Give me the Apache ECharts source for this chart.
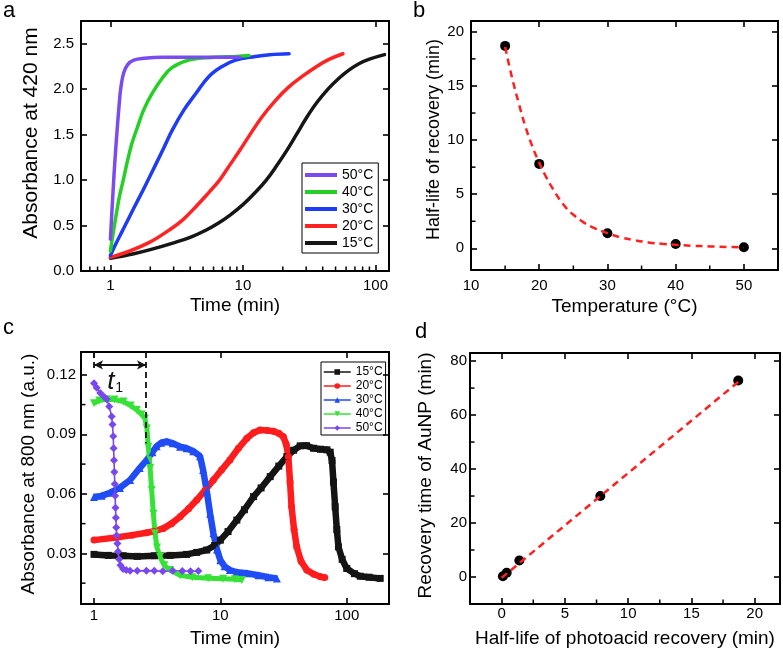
<!DOCTYPE html>
<html><head><meta charset="utf-8">
<script src="https://cdn.jsdelivr.net/npm/echarts@6/dist/echarts.min.js"></script>
<style>html,body{margin:0;padding:0;background:#fff}#c{width:783px;height:652px}</style>
</head><body><div id="c"></div>
<script>
// ---------- Panel a: absorbance at 420 nm vs time ----------
const a15_t = [1.0, 1.5, 2.0, 3.0, 4.0, 5.2, 6.5, 8.0, 10, 12.5, 15, 18, 21.5, 25.3, 30, 36, 43.8, 53, 63, 75, 90, 117];
const a15_v = [0.14, 0.19, 0.235, 0.31, 0.37, 0.445, 0.525, 0.615, 0.73, 0.87, 1.0, 1.16, 1.33, 1.5, 1.68, 1.85, 2.0, 2.12, 2.21, 2.28, 2.33, 2.38];
const a20_t = [1.0, 1.4, 2.0, 2.77, 3.5, 4.5, 5.5, 6.66, 8.0, 9.5, 11.3, 14, 17.7, 22, 28, 36, 45, 56.8];
const a20_v = [0.15, 0.22, 0.32, 0.45, 0.56, 0.72, 0.86, 1.0, 1.17, 1.33, 1.5, 1.7, 1.88, 2.02, 2.14, 2.25, 2.33, 2.39];
const a30_t = [1.0, 1.1, 1.24, 1.5, 1.75, 2.0, 2.5, 2.93, 3.58, 4.4, 5.54, 6.97, 8.8, 12.4, 16, 22.3];
const a30_v = [0.17, 0.3, 0.45, 0.69, 0.88, 1.05, 1.34, 1.55, 1.77, 1.95, 2.14, 2.25, 2.32, 2.36, 2.38, 2.39];
const a40_t = [1.0, 1.05, 1.1, 1.17, 1.25, 1.34, 1.45, 1.59, 1.78, 2.06, 2.46, 2.93, 3.9, 6.2, 9.0, 11.1];
const a40_v = [0.22, 0.42, 0.6, 0.82, 1.0, 1.2, 1.4, 1.57, 1.77, 1.95, 2.12, 2.24, 2.32, 2.35, 2.36, 2.37];
const a50_t = [1.0, 1.04, 1.08, 1.12, 1.16, 1.2, 1.26, 1.35, 1.5, 1.8, 2.5, 4.0, 6.0, 9.5];
const a50_v = [0.35, 0.8, 1.2, 1.52, 1.8, 2.02, 2.18, 2.27, 2.32, 2.34, 2.35, 2.35, 2.35, 2.35];
const a_labels = ['50°C', '40°C', '30°C', '20°C', '15°C'];
const a_xMajor = [1, 10, 100];
const a_xMinor = [0.7, 0.8, 0.9, 2, 3, 4, 5, 6, 7, 8, 9, 20, 30, 40, 50, 60, 70, 80, 90];
const a_yMajor = [0, 0.5, 1.0, 1.5, 2.0, 2.5];

// ---------- Panel b: half-life vs temperature ----------
const b_temp = [15, 20, 30, 40, 50];
const b_half = [18.7, 7.8, 1.4, 0.4, 0.1];
const b_fit_t = [15, 16, 17, 18, 19, 20, 21, 22, 23, 24, 25, 26.5, 28, 30, 32, 34, 36, 38, 40, 42.5, 45, 47.5, 50];
const b_fit_v = [18.6, 15.8, 13.4, 11.2, 9.4, 7.9, 6.6, 5.5, 4.5, 3.7, 3.1, 2.4, 1.9, 1.4, 1.0, 0.75, 0.55, 0.42, 0.33, 0.24, 0.18, 0.13, 0.1];
const b_xMajor = [10, 20, 30, 40, 50];
const b_xMinor = [15, 25, 35, 45];
const b_yMajor = [0, 5, 10, 15, 20];
const b_yMinor = [2.5, 7.5, 12.5, 17.5];

// ---------- Panel c: absorbance at 800 nm vs time ----------
const c15_t = [1.0, 1.3, 1.7, 2.2, 3, 4, 5.4, 6.5, 7.8, 9, 10, 11.5, 13.5, 15.5, 18.3, 21, 24.8, 29, 33.6, 38, 42.8, 48, 54.6, 62, 69.7, 74, 76.5, 78.5, 81, 83.5, 86, 92, 100, 115, 128, 150, 184];
const c15_v = [0.0295, 0.029, 0.0288, 0.0285, 0.0288, 0.029, 0.0295, 0.0305, 0.0317, 0.034, 0.0367, 0.041, 0.0468, 0.052, 0.0586, 0.063, 0.0687, 0.074, 0.0788, 0.082, 0.0842, 0.0843, 0.083, 0.0825, 0.0822, 0.081, 0.0768, 0.066, 0.0535, 0.042, 0.0333, 0.027, 0.0224, 0.0198, 0.0185, 0.018, 0.0174];
const c20_t = [1.0, 1.5, 2.0, 2.61, 3.0, 3.54, 4.1, 4.8, 5.6, 6.5, 7.6, 8.8, 10.2, 11.9, 13.9, 16.2, 18.3, 20.6, 23.5, 26.3, 29, 31.5, 33.2, 34.5, 35.6, 36.6, 38.3, 40.2, 43.5, 48.3, 55, 62, 67];
const c20_v = [0.0367, 0.038, 0.0392, 0.0404, 0.0412, 0.0426, 0.045, 0.0485, 0.0525, 0.0569, 0.062, 0.067, 0.072, 0.0771, 0.083, 0.088, 0.0908, 0.0922, 0.092, 0.0916, 0.0905, 0.0888, 0.085, 0.0788, 0.066, 0.0535, 0.042, 0.0333, 0.026, 0.0216, 0.0195, 0.0182, 0.0178];
const c30_t = [1.0, 1.15, 1.34, 1.6, 1.93, 2.3, 2.61, 2.9, 3.13, 3.4, 3.76, 4.2, 4.8, 5.4, 6.1, 6.9, 7.3, 7.8, 8.3, 8.8, 9.4, 10, 10.8, 11.9, 13.5, 16.2, 20, 24, 28];
const c30_v = [0.0584, 0.059, 0.0606, 0.063, 0.067, 0.073, 0.077, 0.081, 0.084, 0.0858, 0.0864, 0.0855, 0.0838, 0.083, 0.0815, 0.079, 0.072, 0.0613, 0.05, 0.0401, 0.032, 0.0266, 0.0235, 0.0216, 0.0205, 0.02, 0.019, 0.018, 0.0174];
const c40_t = [1.0, 1.1, 1.26, 1.45, 1.71, 1.95, 2.18, 2.38, 2.53, 2.62, 2.69, 2.78, 2.86, 2.95, 3.04, 3.15, 3.33, 3.6, 4.0, 4.8, 6, 8, 10.5, 13, 14.8];
const c40_v = [0.1057, 0.107, 0.1077, 0.1075, 0.1065, 0.1045, 0.1023, 0.1, 0.098, 0.093, 0.0838, 0.073, 0.0619, 0.05, 0.0401, 0.033, 0.0283, 0.024, 0.0216, 0.019, 0.018, 0.0175, 0.0172, 0.017, 0.0166];
const c50_t = [1.0, 1.05, 1.12, 1.2, 1.26, 1.32, 1.38, 1.40, 1.42, 1.43, 1.44, 1.45, 1.46, 1.47, 1.48, 1.49, 1.5, 1.51, 1.53, 1.55, 1.58, 1.62, 1.7, 1.8, 1.93, 2.2, 2.6, 3.0, 3.5, 4.2, 5, 5.8, 6.7];
const c50_v = [0.1158, 0.1135, 0.1108, 0.109, 0.1077, 0.104, 0.099, 0.095, 0.089, 0.083, 0.077, 0.071, 0.065, 0.059, 0.053, 0.048, 0.043, 0.039, 0.035, 0.031, 0.027, 0.024, 0.0222, 0.0216, 0.0213, 0.0212, 0.0213, 0.0212, 0.021, 0.0212, 0.0211, 0.021, 0.0211];
const c_labels = ['15°C', '20°C', '30°C', '40°C', '50°C'];
const c_xMajor = [1, 10, 100];
const c_yMajor = [0.03, 0.06, 0.09, 0.12];
const c_yMinor = [0.015, 0.045, 0.075, 0.105];
// t1 annotation (time at 1 min and end of plateau, in data units)
const t1_start = 1.0, t1_end = 2.58;
const t1_arrowY = 0.125, t1_topY = 0.1315, t1_leftBottomY = 0.1225, t1_rightBottomY = 0.0855;

// ---------- Panel d: AuNP recovery vs photoacid half-life ----------
const d_half = [0.1, 0.4, 1.4, 7.8, 18.7];
const d_rec = [0.3, 1.6, 6.1, 30.0, 72.8];
const d_fit_x = [0, 18.7];
const d_fit_y = [-0.3, 72.3];
const d_xMajor = [0, 5, 10, 15, 20];
const d_xMinor = [2.5, 7.5, 12.5, 17.5];
const d_yMajor = [0, 20, 40, 60, 80];
const d_yMinor = [10, 30, 50, 70];

// ---------------------------------------------------------------
const FONT = '"Liberation Sans", Arial, Helvetica, sans-serif';
const zip = (xs, ys) => xs.map((x, i) => [x, ys[i]]);
const chart = echarts.init(document.getElementById('c'), null, {renderer: 'canvas'});

const grids = [
  {left: 81, top: 21, width: 308, height: 250},
  {left: 471, top: 21, width: 307, height: 249},
  {left: 81, top: 352, width: 308, height: 252},
  {left: 470, top: 353, width: 310, height: 251}
];

const xAxes = [], yAxes = [];
function axisSet(dim, g, type, min, max, majors, fmt, name, nameGap, labelMargin, nameSize, namePad) {
  const list = dim === 'x' ? xAxes : yAxes;
  const posMain = dim === 'x' ? 'bottom' : 'left';
  const posMirror = dim === 'x' ? 'top' : 'right';
  const base = {gridIndex: g, type: type, min: min, max: max, splitLine: {show: false}, axisPointer: {show: false}};
  if (type === 'log') base.logBase = 10;
  const line = {show: true, onZero: false, lineStyle: {color: '#000', width: 2}};
  const tick = {show: true, inside: true, length: 6, lineStyle: {color: '#000', width: 1.6}, customValues: majors};
  list.push(Object.assign({}, base, {
    position: posMain, name: name, nameLocation: 'middle', nameGap: nameGap,
    nameTextStyle: {fontFamily: FONT, fontSize: nameSize, color: '#000', padding: namePad || 0},
    axisLine: line, axisTick: tick,
    axisLabel: {show: true, margin: labelMargin, fontFamily: FONT, fontSize: 15, color: '#000', customValues: majors, formatter: fmt}
  }));
  const mainIdx = list.length - 1;
  list.push(Object.assign({}, base, {position: posMirror, axisLine: line, axisTick: tick, axisLabel: {show: false}}));
  return mainIdx;
}
const fmtInt = v => String(Math.round(v));
const fmt1 = v => v.toFixed(1);
const fmt2 = v => v.toFixed(2);

const ax = {
  ax: axisSet('x', 0, 'log', 0.6, 126.5, a_xMajor, fmtInt, 'Time (min)', 25, 7, 19),
  ay: axisSet('y', 0, 'value', 0, 2.75, a_yMajor, fmt1, 'Absorbance at 420 nm', 39, 7, 21, [0, 0, 0, 26]),
  bx: axisSet('x', 1, 'value', 10, 55, b_xMajor, fmtInt, 'Temperature (°C)', 27, 8, 19),
  by: axisSet('y', 1, 'value', -2, 21, b_yMajor, fmtInt, 'Half-life of recovery (min)', 27, 7, 18, [0, 0, 0, 12]),
  cx: axisSet('x', 2, 'log', 0.789, 216, c_xMajor, fmtInt, 'Time (min)', 25, 4, 19),
  cy: axisSet('y', 2, 'value', 0.0045, 0.1315, c_yMajor, fmt2, 'Absorbance at 800 nm (a.u.)', 43, 5, 19, [0, 0, 0, 8]),
  dx: axisSet('x', 3, 'value', -2.5, 22, d_xMajor, fmtInt, 'Half-life of photoacid recovery (min)', 25, 2, 19),
  dy: axisSet('y', 3, 'value', -10, 83, d_yMajor, fmtInt, 'Recovery time of AuNP (min)', 35, 3, 19, [0, 0, 0, 6])
};

const series = [];

// minor ticks drawn through the axis scales (inward, shorter than majors)
function minorTicks(xi, yi, dim, vals, other) {
  series.push({type: 'custom', xAxisIndex: xi, yAxisIndex: yi, silent: true, clip: false, z: 10,
    data: dim === 'x' ? vals.map(v => [v, other]) : vals.map(v => [other, v]),
    renderItem: (params, api) => {
      const p = api.coord([api.value(0), api.value(1)]);
      const shape = dim === 'x' ? {x1: p[0], y1: p[1], x2: p[0], y2: p[1] - 4.5} : {x1: p[0], y1: p[1], x2: p[0] + 4.5, y2: p[1]};
      return {type: 'line', shape: shape, style: {stroke: '#000', lineWidth: 1.5}};
    }});
}
minorTicks(ax.ax, ax.ay, 'x', a_xMinor, 0);
minorTicks(ax.bx, ax.by, 'x', b_xMinor, -2);
minorTicks(ax.bx, ax.by, 'y', b_yMinor, 10);
minorTicks(ax.cx, ax.cy, 'y', c_yMinor, 0.789);
minorTicks(ax.dx, ax.dy, 'x', d_xMinor, -10);
minorTicks(ax.dx, ax.dy, 'y', d_yMinor, -2.5);

const aColors = {a15: '#161616', a20: '#ff2323', a30: '#1d3cf4', a40: '#25cf25', a50: '#7a4cf0'};
const cColors = {c15: '#141414', c20: '#ff1c1c', c30: '#1f4cf4', c40: '#36e236', c50: '#7848ee'};

[['a15', a15_t, a15_v], ['a20', a20_t, a20_v], ['a30', a30_t, a30_v], ['a40', a40_t, a40_v], ['a50', a50_t, a50_v]].forEach(([n, t, v]) => {
  series.push({name: n, type: 'line', xAxisIndex: ax.ax, yAxisIndex: ax.ay, data: zip(t, v), smooth: 0.4,
    showSymbol: false, symbol: 'none', color: aColors[n], lineStyle: {width: 3.5, color: aColors[n], cap: 'round'}, silent: true});
});

// panel b
series.push({type: 'scatter', xAxisIndex: ax.bx, yAxisIndex: ax.by, data: zip(b_temp, b_half), symbol: 'circle', symbolSize: 10,
  itemStyle: {color: '#000', opacity: 1}, z: 2, silent: true});
series.push({type: 'line', xAxisIndex: ax.bx, yAxisIndex: ax.by, data: zip(b_fit_t, b_fit_v), smooth: 0.4, showSymbol: false, symbol: 'none',
  lineStyle: {color: '#ff1f1f', width: 2.5, type: [7, 5]}, z: 3, silent: true});

// panel c
const cSym = {c15: ['rect', 0, 7], c20: ['circle', 0, 7], c30: ['triangle', 0, 8], c40: ['triangle', 180, 8], c50: ['diamond', 0, 8]};
const cWidth = {c15: 6.5, c20: 6.5, c30: 6.5, c40: 5, c50: 1.6};
[['c15', c15_t, c15_v], ['c20', c20_t, c20_v], ['c30', c30_t, c30_v], ['c40', c40_t, c40_v], ['c50', c50_t, c50_v]].forEach(([n, t, v]) => {
  series.push({name: n, type: 'line', xAxisIndex: ax.cx, yAxisIndex: ax.cy, data: zip(t, v), showSymbol: true,
    symbol: cSym[n][0], symbolRotate: cSym[n][1], symbolSize: cSym[n][2], color: cColors[n],
    itemStyle: {color: cColors[n]}, lineStyle: {width: cWidth[n], color: cColors[n]}, silent: true});
});
// t1 annotation on panel c
series.push({type: 'line', xAxisIndex: ax.cx, yAxisIndex: ax.cy, data: [], silent: true, z: 5,
  markLine: {silent: true, symbol: 'none', label: {show: false}, animation: false,
    lineStyle: {color: '#111', width: 1.8, type: [6, 4]},
    data: [
      [{coord: [t1_start, t1_topY]}, {coord: [t1_start, t1_leftBottomY]}],
      [{coord: [t1_end, t1_topY]}, {coord: [t1_end, t1_rightBottomY]}],
      [{coord: [t1_start, t1_arrowY], symbol: 'arrow', symbolSize: [7, 9], lineStyle: {type: 'solid', width: 2}},
       {coord: [t1_end, t1_arrowY], symbol: 'arrow', symbolSize: [7, 9], lineStyle: {type: 'solid', width: 2}}]
    ]},
  markPoint: {silent: true, animation: false,
    data: [{coord: [1.47, 0.1165], symbol: 'circle', symbolSize: 1, itemStyle: {color: 'transparent'},
      label: {show: true, position: 'inside', formatter: '{t|t}{s|1}',
        rich: {t: {fontFamily: FONT, fontStyle: 'italic', fontSize: 26, color: '#111'},
               s: {fontFamily: FONT, fontSize: 14, color: '#111', verticalAlign: 'bottom', padding: [12, 0, 0, 1]}}}}]}
});

// panel d
series.push({type: 'scatter', xAxisIndex: ax.dx, yAxisIndex: ax.dy, data: zip(d_half, d_rec), symbol: 'circle', symbolSize: 10,
  itemStyle: {color: '#000', opacity: 1}, z: 2, silent: true});
series.push({type: 'line', xAxisIndex: ax.dx, yAxisIndex: ax.dy, data: zip(d_fit_x, d_fit_y), showSymbol: false, symbol: 'none',
  lineStyle: {color: '#ff1f1f', width: 2.5, type: [7, 5]}, z: 3, silent: true});

const legendText = {fontFamily: FONT, color: '#000'};
const aOrder = ['a50', 'a40', 'a30', 'a20', 'a15'];
const cOrder = ['c15', 'c20', 'c30', 'c40', 'c50'];
const option = {
  animation: false,
  backgroundColor: '#fff',
  grid: grids,
  xAxis: xAxes,
  yAxis: yAxes,
  legend: [
    {data: aOrder, formatter: n => a_labels[aOrder.indexOf(n)],
      orient: 'vertical', left: 302, top: 163, icon: 'rect', itemWidth: 32, itemHeight: 4, itemGap: 3,
      padding: [5, 5, 3, 3], borderColor: '#000', borderWidth: 1, selectedMode: false,
      textStyle: Object.assign({fontSize: 14}, legendText)},
    {data: cOrder, formatter: n => c_labels[cOrder.indexOf(n)],
      orient: 'vertical', left: 321, top: 362, itemWidth: 27, itemHeight: 7, itemGap: 2,
      padding: [4, 3, 1, 2], borderColor: '#000', borderWidth: 1, selectedMode: false,
      lineStyle: {width: 1.5}, textStyle: Object.assign({fontSize: 12}, legendText)}
  ],
  graphic: [
    {type: 'text', left: 3, top: 0, style: {text: 'a', font: '22px ' + FONT, fill: '#000'}},
    {type: 'text', left: 413, top: 0, style: {text: 'b', font: '22px ' + FONT, fill: '#000'}},
    {type: 'text', left: 3, top: 317, style: {text: 'c', font: '22px ' + FONT, fill: '#000'}},
    {type: 'text', left: 415, top: 321, style: {text: 'd', font: '22px ' + FONT, fill: '#000'}}
  ],
  series: series
};
chart.setOption(option);
</script>
</body></html>
